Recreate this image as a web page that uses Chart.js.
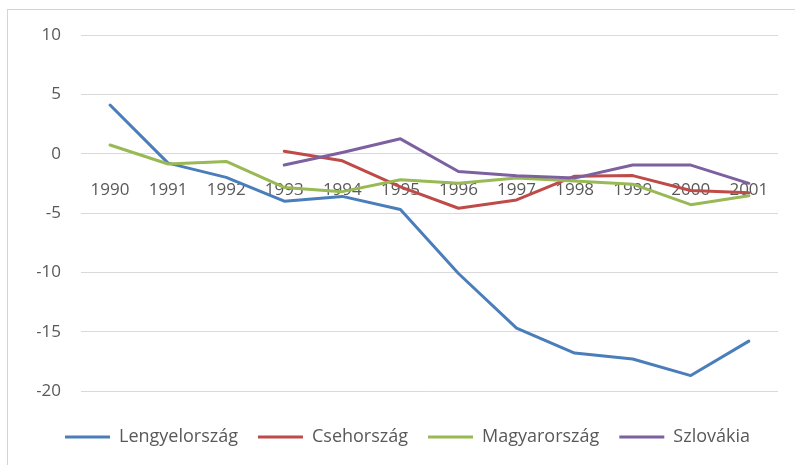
<!DOCTYPE html>
<html>
<head>
<meta charset="utf-8">
<script src="https://cdn.jsdelivr.net/npm/chart.js@4/dist/chart.umd.min.js"></script>
<style>
  html, body { margin: 0; padding: 0; background: #fff; }
  #wrap { position: relative; width: 795px; height: 465px; overflow: hidden; }
  #frame { position: absolute; left: 7px; top: 9px; width: 820px; height: 480px; border: 1px solid #d4d4d4; box-sizing: border-box; }
  #c { position: absolute; left: 0; top: 0; }
</style>
</head>
<body>
<div id="wrap">
  <div id="frame"></div>
  <canvas id="c" width="795" height="465"></canvas>
</div>
<script>
const years = ['1990','1991','1992','1993','1994','1995','1996','1997','1998','1999','2000','2001'];
const lengyelorszag = [4.1, -0.8, -2.0, -4.0, -3.6, -4.7, -10.1, -14.7, -16.8, -17.3, -18.7, -15.8];
const csehorszag = [null, null, null, 0.2, -0.6, -2.8, -4.6, -3.9, -1.9, -1.85, -3.1, -3.3];
const magyarorszag = [0.73, -0.87, -0.65, -2.85, -3.2, -2.2, -2.5, -2.06, -2.3, -2.57, -4.3, -3.55];
const szlovakia = [null, null, null, -0.96, 0.1, 1.25, -1.5, -1.86, -2.06, -0.96, -0.96, -2.5];
const yTicks = [10, 5, 0, -5, -10, -15, -20];

const FONT = 'Open Sans';
const TXT = '#595959';
const GRID = '#d9d9d9';

function ds(label, data, color, order) {
  return {
    label, data,
    borderColor: color, backgroundColor: color,
    borderWidth: 3, pointRadius: 0, pointHoverRadius: 0,
    tension: 0, spanGaps: false, fill: false,
    borderJoinStyle: 'round', borderCapStyle: 'round',
    order
  };
}

new Chart(document.getElementById('c'), {
  type: 'line',
  data: {
    labels: years,
    datasets: [
      ds('Lengyelország', lengyelorszag, '#4a7ebb', 4),
      ds('Csehország', csehorszag, '#be4b48', 3),
      ds('Magyarország', magyarorszag, '#98b954', 2),
      ds('Szlovákia', szlovakia, '#7d60a0', 1)
    ]
  },
  options: {
    responsive: false,
    animation: false,
    layout: { padding: { top: 35, right: 17, left: 37, bottom: 9 } },
    plugins: {
      tooltip: { enabled: false },
      legend: {
        position: 'bottom',
        labels: {
          sort: (a, b) => a.datasetIndex - b.datasetIndex,
          usePointStyle: true,
          pointStyle: 'line',
          pointStyleWidth: 45,
          color: TXT,
          font: { family: FONT, size: 18 },
          padding: 20
        }
      }
    },
    scales: {
      x: {
        position: { y: 0 },
        offset: true,
        grid: { display: false, drawTicks: false },
        border: { display: false },
        ticks: { color: TXT, font: { family: FONT, size: 17 }, padding: 26, maxRotation: 0, autoSkip: false }
      },
      spacer: {
        type: 'category',
        position: 'bottom',
        grid: { display: false, drawTicks: false },
        border: { display: false },
        ticks: { display: false },
        afterFit: (axis) => { axis.height = 17; }
      },
      y: {
        min: -20, max: 10,
        afterBuildTicks: (axis) => { axis.ticks = yTicks.map(v => ({ value: v })); },
        afterFit: (axis) => { axis.width = 44; },
        grid: { color: GRID, lineWidth: 1, drawTicks: false },
        border: { display: false },
        ticks: { color: TXT, font: { family: FONT, size: 17 }, padding: 20 }
      }
    }
  }
});
</script>
</body>
</html>
